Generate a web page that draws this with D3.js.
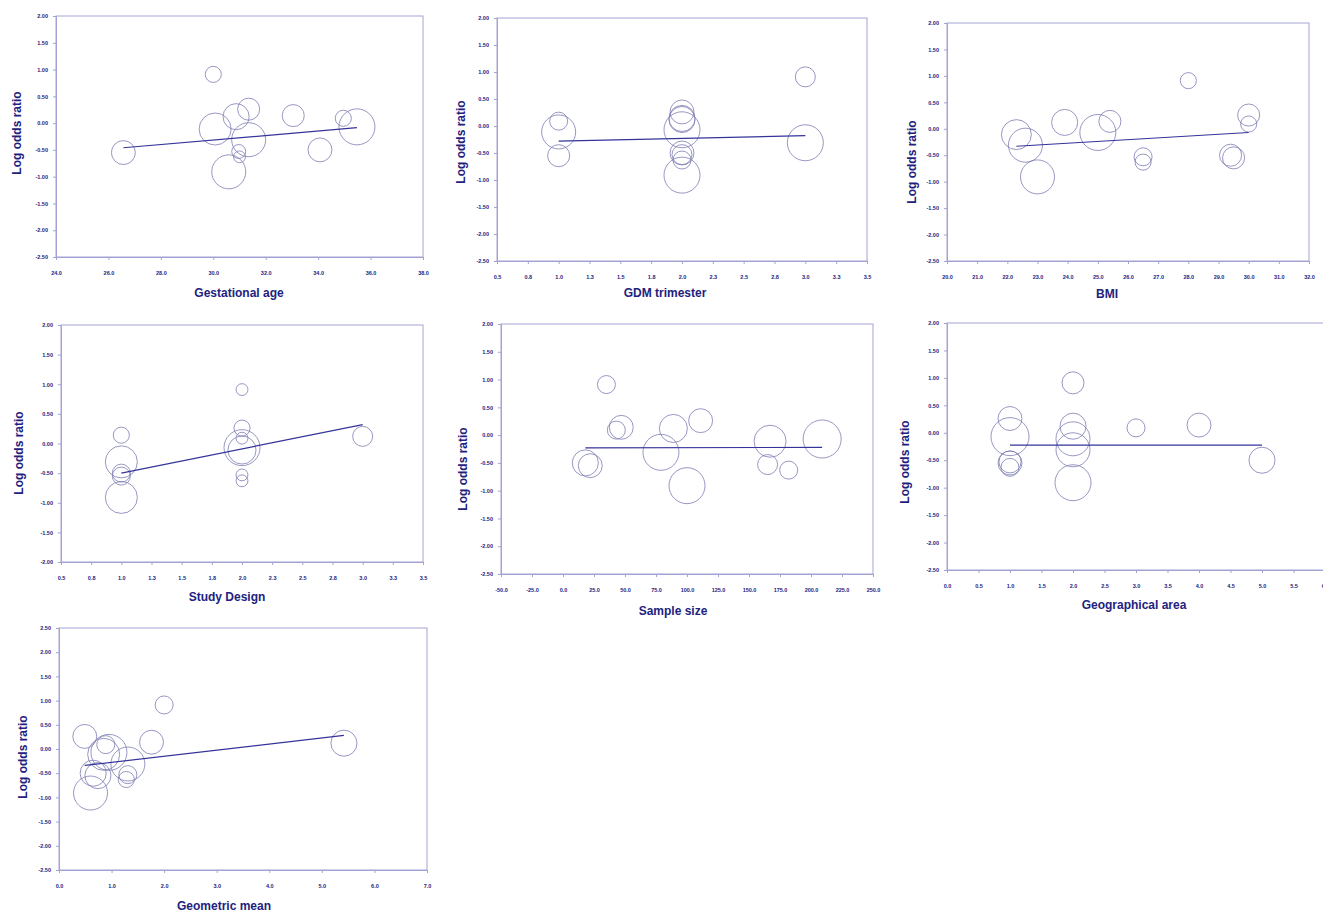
<!DOCTYPE html>
<html>
<head>
<meta charset="utf-8">
<script src="https://cdn.jsdelivr.net/npm/d3@7"></script>
<style>
body { margin: 0; background: #fff; }
svg { display: block; font-family: "Liberation Sans", Arial, sans-serif; }
</style>
</head>
<body>
<div id="chart"></div>
<script>
// log odds ratio of the 13 studies, same study order in every panel
var logOR = [0.91, 0.26, 0.14, 0.12, 0.09, -0.07, -0.11, -0.31, -0.55, -0.53, -0.63, -0.50, -0.91];

// covariates and study weights per meta-regression
var gestAge    = [30.0, 31.35, 33.05, 30.87, 34.96, 35.48, 30.07, 31.35, 26.57, 30.97, 31.0, 34.07, 30.59];
var gestW      = [2.4, 4.5, 4.5, 6.3, 2.4, 12.0, 9.5, 10.7, 5.3, 1.8, 1.3, 5.3, 10.7];
var trimester  = [3, 2, 2, 2, 1, 2, 1, 3, 1, 2, 2, 2, 2];
var trimW      = [3.7, 5.3, 6.3, 6.3, 3.0, 12.0, 10.7, 12.0, 4.5, 3.7, 3.0, 5.3, 12.0];
var bmi        = [28.0, 30.0, 25.4, 23.9, 30.0, 25.0, 22.3, 22.6, 29.5, 26.5, 26.5, 29.4, 23.0];
var bmiW       = [2.4, 4.5, 4.5, 6.3, 2.4, 12.0, 8.3, 10.7, 4.5, 3.0, 2.4, 4.5, 10.7];
var design     = [2, 2, 1, 3, 2, 2, 2, 1, 1, 2, 2, 1, 1];
var designW    = [1.3, 2.4, 2.4, 3.7, 1.3, 12.0, 7.3, 9.5, 3.0, 1.3, 1.3, 3.0, 9.5];
var sampleSize = [35, 111, 47, 89, 43, 209, 167, 79, 22, 165, 182, 18, 100];
var sampleW    = [3.0, 5.3, 5.3, 7.3, 3.0, 13.4, 9.5, 12.0, 5.3, 3.7, 3.0, 6.3, 12.0];
var geoArea    = [2, 1, 4, 2, 3, 1, 2, 2, 1, 1, 1, 5, 2];
var geoW       = [4.5, 5.3, 5.3, 6.3, 3.0, 13.4, 10.7, 10.7, 5.3, 4.5, 3.0, 6.3, 12.0];
var geoMean    = [2.0, 0.49, 1.76, 5.42, 0.89, 0.95, 0.85, 1.31, 0.74, 1.31, 1.28, 0.65, 0.60];
var geoMeanW   = [3.0, 5.3, 5.3, 6.3, 3.0, 12.0, 9.5, 10.7, 6.3, 3.0, 2.4, 6.3, 10.7];

// fitted lines [intercept, slope]
var fitGest = [-1.579, 0.0421];
var fitTrim = [-0.33, 0.05];
var fitBmi = [-1.084, 0.0338];
var fitDesign = [-0.91, 0.41];
var fitSample = [-0.231, 0.00005];
var fitGeo = [-0.225, 0];
var fitGeoMean = [-0.402, 0.126];

// axis titles and ranges
var xTitles = ["Gestational age", "GDM trimester", "BMI", "Study Design", "Sample size", "Geographical area", "Geometric mean"];
var xDomains = [[24, 38], [0.5, 3.5], [20, 32], [0.5, 3.5], [-50, 250], [0, 6], [0, 7]];
var xSteps = [2, 0.25, 1, 0.25, 25, 0.5, 1];
var yDomains = [[-2.5, 2], [-2.5, 2], [-2.5, 2], [-2, 2], [-2.5, 2], [-2.5, 2], [-2.5, 2.5]];

var panels = [
  {x: gestAge, w: gestW, fit: fitGest, box: [56, 16, 423, 257], xt: [239, 297], yt: [17, 133]},
  {x: trimester, w: trimW, fit: fitTrim, box: [497, 18, 867, 261], xt: [665, 297], yt: [461, 142]},
  {x: bmi, w: bmiW, fit: fitBmi, box: [947, 23, 1309, 261], xt: [1107, 298], yt: [912, 162]},
  {x: design, w: designW, fit: fitDesign, box: [61, 325, 423, 562], xt: [227, 601], yt: [19, 453]},
  {x: sampleSize, w: sampleW, fit: fitSample, box: [501, 324, 873, 574], xt: [673, 615], yt: [463, 469]},
  {x: geoArea, w: geoW, fit: fitGeo, box: [947, 323, 1325, 570], xt: [1134, 609], yt: [905, 462]},
  {x: geoMean, w: geoMeanW, fit: fitGeoMean, box: [59, 628, 427, 870], xt: [224, 910], yt: [23, 757]}
];

var textCol = "#22227e", axisCol = "#a3a3d3", bubbleCol = "#7c7cb4", lineCol = "#33339a";

var svg = d3.select("#chart").append("svg")
  .attr("width", 1323)
  .attr("height", 912);

var r = d3.scaleSqrt().domain([0, 12]).range([0, 18]);

panels.forEach(function(p, i) {
  var b = p.box;
  var w = b[2] - b[0], h = b[3] - b[1];
  var x = d3.scaleLinear().domain(xDomains[i]).range([0, w]);
  var y = d3.scaleLinear().domain(yDomains[i]).range([h, 0]);

  var g = svg.append("g").attr("transform", "translate(" + b[0] + "," + b[1] + ")");

  var yt = d3.range(yDomains[i][0], yDomains[i][1] + 0.001, 0.5);
  var xt = d3.range(xDomains[i][0], xDomains[i][1] + 0.001, xSteps[i]);

  var ya = g.append("g")
    .call(d3.axisLeft(y).tickValues(yt)
      .tickFormat(function(d) { return d.toFixed(2); })
      .tickSizeOuter(0).tickSize(3).tickPadding(5));
  var xa = g.append("g")
    .attr("transform", "translate(0," + h + ")")
    .call(d3.axisBottom(x).tickValues(xt)
      .tickFormat(function(d) { return d.toFixed(1); })
      .tickSizeOuter(0).tickSize(3).tickPadding(11));

  [ya, xa].forEach(function(a) {
    a.selectAll("path, line").attr("stroke", axisCol);
    a.selectAll("text")
      .attr("fill", textCol)
      .style("font-size", "5.5px")
      .style("font-weight", "bold");
  });

  // frame
  g.append("rect")
    .attr("width", w)
    .attr("height", h)
    .attr("fill", "none")
    .attr("stroke", axisCol)
    .attr("stroke-width", 1);

  var pts = p.x.map(function(v, k) { return {x: v, y: logOR[k], w: p.w[k]}; });
  pts.sort(function(a, c) { return c.w - a.w; });

  g.selectAll("circle.bubble")
    .data(pts)
    .enter().append("circle")
      .attr("class", "bubble")
      .attr("cx", function(d) { return x(d.x); })
      .attr("cy", function(d) { return y(d.y); })
      .attr("r", function(d) { return r(d.w); })
      .attr("fill", "none")
      .attr("stroke", bubbleCol)
      .attr("stroke-width", 0.8);

  var ext = d3.extent(p.x);
  var fitLine = d3.line()
    .x(function(d) { return x(d); })
    .y(function(d) { return y(p.fit[0] + p.fit[1] * d); });
  g.append("path")
    .datum(ext)
    .attr("d", fitLine)
    .attr("fill", "none")
    .attr("stroke", lineCol)
    .attr("stroke-width", 1.2);

  svg.append("text")
    .attr("x", p.xt[0])
    .attr("y", p.xt[1])
    .attr("text-anchor", "middle")
    .attr("fill", textCol)
    .style("font-size", "12px")
    .style("font-weight", "bold")
    .text(xTitles[i]);

  svg.append("text")
    .attr("transform", "translate(" + p.yt[0] + "," + p.yt[1] + ") rotate(-90)")
    .attr("text-anchor", "middle")
    .attr("dominant-baseline", "central")
    .attr("fill", textCol)
    .style("font-size", "12px")
    .style("font-weight", "bold")
    .text("Log odds ratio");
});
</script>
</body>
</html>
